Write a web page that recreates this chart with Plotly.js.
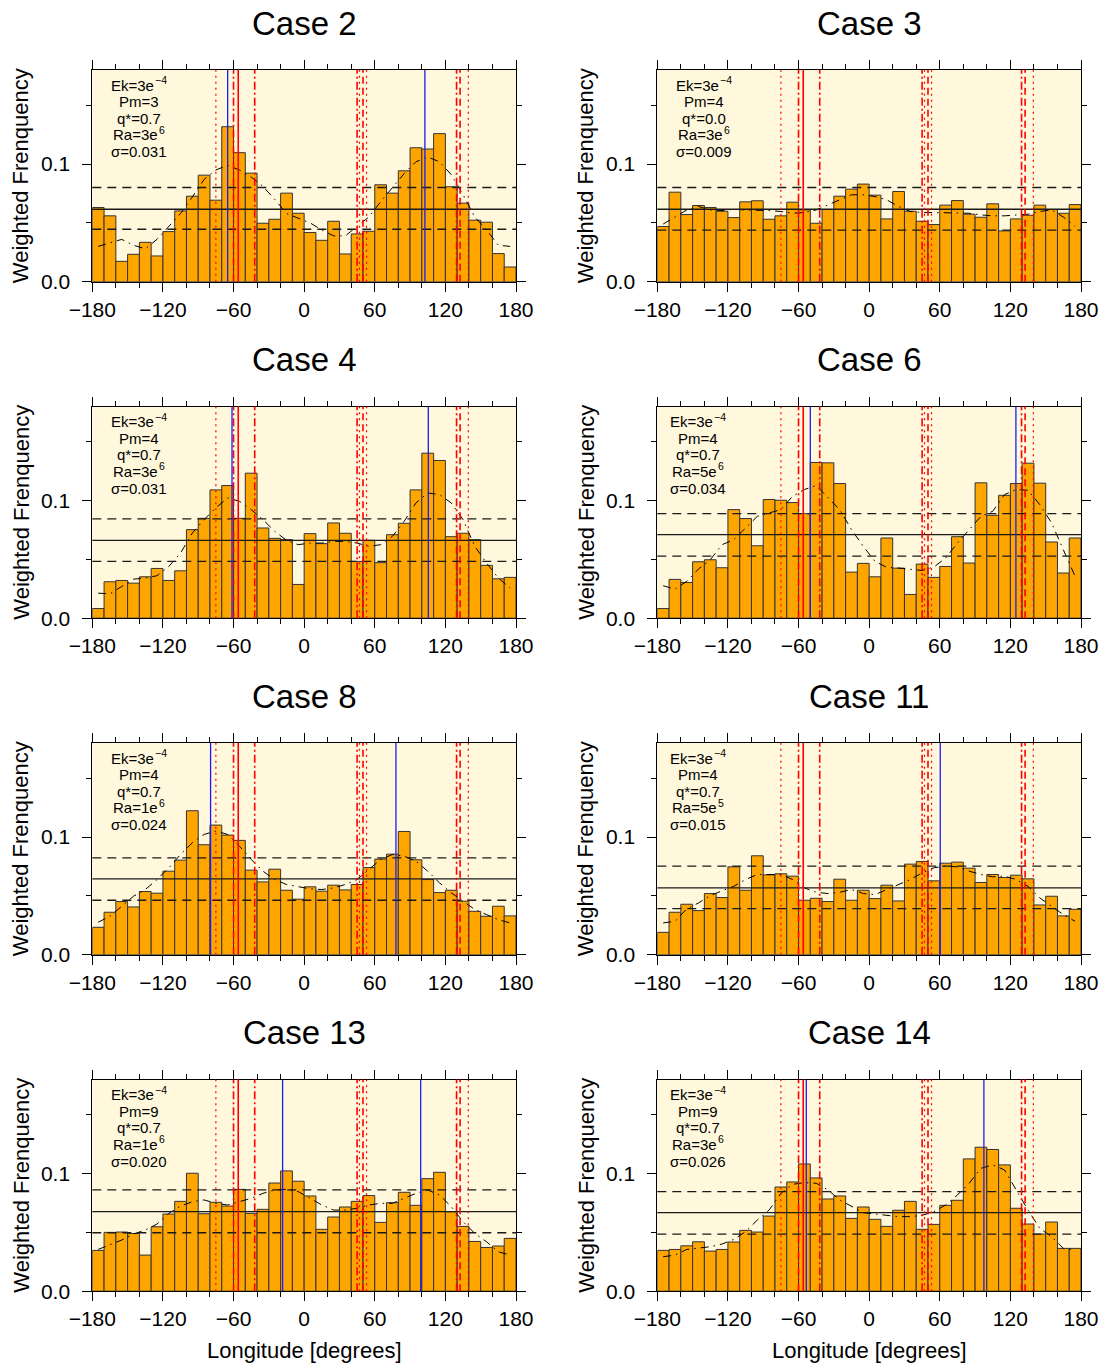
<!DOCTYPE html>
<html>
<head>
<meta charset="utf-8">
<script src="https://cdn.plot.ly/plotly-3.0.1.min.js"></script>
<style>
  html, body { margin: 0; padding: 0; background: #ffffff; }
  #chart { width: 1103px; height: 1365px; }
</style>
</head>
<body>
<div id="chart"></div>
<script>
// Longitude bin centres (10-degree bins)
const longitude = [-175,-165,-155,-145,-135,-125,-115,-105,-95,-85,-75,-65,-55,-45,-35,-25,-15,-5,
                   5,15,25,35,45,55,65,75,85,95,105,115,125,135,145,155,165,175];

const caseNames = ["Case 2","Case 3","Case 4","Case 6","Case 8","Case 11","Case 13","Case 14"];
const pmValues  = ["3","4","4","4","4","4","9","9"];
const qStarValues = ["0.7","0.0","0.7","0.7","0.7","0.7","0.7","0.7"];
const raMantissa = ["3","3","3","5","1","5","1","3"];
const raExponent = ["6","6","6","6","6","5","6","6"];
const ekMantissa = "3";
const ekExponent = "\u22124";
const sigmaValues = ["0.031","0.009","0.031","0.034","0.024","0.015","0.020","0.026"];

// Weighted frequency per longitude bin
const freqCase2  = [0.0631,0.0560,0.0173,0.0233,0.0335,0.0219,0.0426,0.0602,0.0727,0.0906,0.0693,0.1318,0.1097,0.0923,0.0497,0.0531,0.0753,0.0582,0.0418,0.0352,0.0514,0.0236,0.0406,0.0429,0.0824,0.0753,0.0943,0.1139,0.1128,0.1259,0.0807,0.0668,0.0523,0.0506,0.0239,0.0125];
const freqCase3  = [0.0469,0.0761,0.0571,0.0648,0.0631,0.0599,0.0545,0.0679,0.0688,0.0531,0.0560,0.0676,0.0611,0.0497,0.0614,0.0727,0.0787,0.0830,0.0736,0.0534,0.0767,0.0599,0.0514,0.0486,0.0651,0.0690,0.0574,0.0548,0.0662,0.0432,0.0534,0.0565,0.0651,0.0614,0.0582,0.0656];
const freqCase4  = [0.0082,0.0310,0.0321,0.0298,0.0352,0.0423,0.0321,0.0403,0.0753,0.0849,0.1091,0.1128,0.0849,0.1233,0.0767,0.0679,0.0668,0.0287,0.0719,0.0634,0.0810,0.0722,0.0483,0.0662,0.0472,0.0710,0.0807,0.1091,0.1403,0.1341,0.0693,0.0722,0.0668,0.0449,0.0335,0.0347];
const freqCase6  = [0.0082,0.0330,0.0304,0.0480,0.0497,0.0429,0.0923,0.0847,0.0616,0.1009,0.1003,0.0983,0.0889,0.1324,0.1321,0.1145,0.0392,0.0466,0.0352,0.0682,0.0426,0.0202,0.0460,0.0347,0.0440,0.0693,0.0469,0.1151,0.0875,0.1045,0.1145,0.1318,0.1148,0.0648,0.0384,0.0682];
const freqCase8  = [0.0233,0.0361,0.0452,0.0406,0.0537,0.0523,0.0710,0.0804,0.1224,0.0935,0.1102,0.1017,0.0972,0.0719,0.0619,0.0727,0.0548,0.0472,0.0577,0.0540,0.0591,0.0551,0.0597,0.0741,0.0813,0.0855,0.1048,0.0807,0.0639,0.0528,0.0548,0.0455,0.0369,0.0327,0.0412,0.0330];
const freqCase11 = [0.0190,0.0361,0.0429,0.0375,0.0520,0.0486,0.0747,0.0548,0.0841,0.0679,0.0688,0.0668,0.0463,0.0480,0.0452,0.0642,0.0463,0.0548,0.0477,0.0591,0.0457,0.0770,0.0793,0.0628,0.0778,0.0787,0.0736,0.0614,0.0682,0.0656,0.0676,0.0645,0.0423,0.0497,0.0330,0.0386];
const freqCase13 = [0.0347,0.0500,0.0503,0.0491,0.0307,0.0548,0.0656,0.0764,0.1003,0.0659,0.0756,0.0724,0.0866,0.0662,0.0696,0.0920,0.1023,0.0935,0.0810,0.0526,0.0631,0.0716,0.0764,0.0813,0.0585,0.0753,0.0841,0.0730,0.0957,0.1011,0.0676,0.0551,0.0423,0.0372,0.0384,0.0449];
const freqCase14 = [0.0347,0.0355,0.0386,0.0420,0.0341,0.0355,0.0418,0.0517,0.0503,0.0639,0.0886,0.0929,0.1082,0.0963,0.0784,0.0810,0.0619,0.0716,0.0611,0.0551,0.0688,0.0764,0.0526,0.0568,0.0730,0.0773,0.1125,0.1224,0.1205,0.1074,0.0705,0.0571,0.0486,0.0588,0.0364,0.0364];

// Smoothed frequency curves
const smoothCase2  = [0.030,0.033,0.036,0.031,0.028,0.036,0.047,0.058,0.072,0.087,0.095,0.099,0.095,0.089,0.081,0.070,0.058,0.054,0.050,0.044,0.039,0.039,0.047,0.055,0.068,0.080,0.092,0.102,0.106,0.102,0.091,0.074,0.055,0.044,0.031,0.030];
const smoothCase3  = [0.049,0.055,0.061,0.064,0.061,0.0605,0.0616,0.061,0.061,0.0605,0.0597,0.0582,0.0588,0.061,0.0653,0.0696,0.0739,0.0739,0.0724,0.0696,0.0639,0.0597,0.0588,0.0588,0.0588,0.0588,0.0582,0.0568,0.056,0.056,0.0565,0.0574,0.0597,0.0611,0.055,0.047];
const smoothCase4  = [0.0213,0.0207,0.0270,0.0332,0.0341,0.0361,0.0440,0.0554,0.0724,0.0838,0.0938,0.1023,0.0994,0.0923,0.0838,0.0739,0.0662,0.0625,0.0639,0.0639,0.0653,0.0653,0.0639,0.0611,0.0625,0.0696,0.0824,0.0980,0.1065,0.1051,0.0980,0.0838,0.0611,0.0469,0.0341,0.0256];
const smoothCase6  = [0.0276,0.0247,0.0313,0.0418,0.0497,0.0625,0.0668,0.0767,0.0866,0.0895,0.0923,0.1037,0.1094,0.1128,0.1023,0.0923,0.0753,0.0611,0.0483,0.0432,0.0426,0.0418,0.0406,0.0435,0.0511,0.0639,0.0753,0.0866,0.0909,0.1051,0.1094,0.1088,0.0966,0.0810,0.0582,0.0355];
const smoothCase8  = [0.0276,0.0327,0.0412,0.0497,0.0554,0.0639,0.0739,0.0852,0.0952,0.1023,0.1051,0.1023,0.0923,0.0810,0.0710,0.0639,0.0597,0.0577,0.0560,0.0554,0.0568,0.0597,0.0639,0.0724,0.0810,0.0852,0.0838,0.0795,0.0710,0.0611,0.0526,0.0455,0.0384,0.0341,0.0298,0.0270];
const smoothCase11 = [0.0270,0.0284,0.0389,0.0440,0.0503,0.0540,0.0582,0.0639,0.0682,0.0682,0.0682,0.0639,0.0568,0.0531,0.0520,0.0531,0.0554,0.0520,0.0511,0.0554,0.0597,0.0639,0.0696,0.0739,0.0753,0.0747,0.0710,0.0682,0.0662,0.0668,0.0639,0.0582,0.0483,0.0412,0.0341,0.0284];
const smoothCase13 = [0.0355,0.0392,0.0435,0.0486,0.0520,0.0571,0.0662,0.0724,0.0761,0.0776,0.0747,0.0733,0.0761,0.0790,0.0832,0.0861,0.0866,0.0847,0.0790,0.0733,0.0690,0.0690,0.0705,0.0733,0.0747,0.0747,0.0790,0.0832,0.0861,0.0818,0.0719,0.0591,0.0491,0.0420,0.0335,0.0307];
const smoothCase14 = [0.0293,0.0307,0.0355,0.0369,0.0378,0.0401,0.0440,0.0506,0.0605,0.0690,0.0832,0.0909,0.0923,0.0918,0.0861,0.0776,0.0719,0.0668,0.0656,0.0642,0.0634,0.0634,0.0645,0.0676,0.0733,0.0818,0.0918,0.1045,0.1074,0.1031,0.0861,0.0690,0.0534,0.0463,0.0364,0.0349];

// Mean level and the dashed band around it
const meanLevel  = [0.0616,0.0616,0.0662,0.0710,0.0645,0.0568,0.0676,0.0668];
const upperLevel = [0.0801,0.0801,0.0844,0.0889,0.0824,0.0753,0.0861,0.0847];
const lowerLevel = [0.0446,0.0438,0.0483,0.0528,0.0463,0.0392,0.0497,0.0486];

// Longitudes of the model's preferred flux lobes (blue)
const lobeLongitudes = [[-65,102.6],[],[-61.3,105.5],[-50,124.7],[-79.5,78],[60.4],[-18.3,99],[-53.4,97.5]];

// Reference longitudes (red) and their line types
const referenceLongitudes = [-75,-60,-56,-42,45,47,50,53,129.5,132.5,139.5];
const referenceKinds      = ["dot","dashdot","solid","dashdot","dashdot","dot","dash","dot","dashdot","dash","dot"];

const freqSeries = [freqCase2,freqCase3,freqCase4,freqCase6,freqCase8,freqCase11,freqCase13,freqCase14];
const smoothSeries = [smoothCase2,smoothCase3,smoothCase4,smoothCase6,smoothCase8,smoothCase11,smoothCase13,smoothCase14];

// ---------- drawing ----------
const W = 1103, H = 1365;
const FONT = "Liberation Sans, Arial, Helvetica, sans-serif";
const colLeft = [92.3, 657.3];
const plotW = 423.7;
const rowTop = [70, 406.5, 743, 1079.5];
const plotH = 211.7;
const textCentre = [46.7, 46.7, 46.7, 40.5, 46.7, 40.5, 46.7, 40.5];
const PARAM_SIZE = 15, EXP_SIZE = 10.5;

// text width helper for placing exponents next to their base
const measureCtx = document.createElement("canvas").getContext("2d");
function textWidth(str, size) {
  measureCtx.font = size + "px " + FONT;
  return measureCtx.measureText(str).width;
}

const dashMap = {
  dot: "2px,4px",
  dash: "7px,4px",
  dashdot: "8px,3px,2px,3px",
  solid: "solid"
};

const traces = [];
const shapes = [];
const annotations = [];
const layout = {
  width: W, height: H,
  margin: {l: 0, r: 0, t: 0, b: 0},
  paper_bgcolor: "#ffffff",
  plot_bgcolor: "#FFF8DC",
  showlegend: false,
  bargap: 0,
  font: {family: FONT, color: "#000000"}
};

for (let i = 0; i < 8; i++) {
  const r = Math.floor(i / 2), c = i % 2;
  const sfx = i === 0 ? "" : String(i + 1);
  const xa = "x" + sfx, ya = "y" + sfx;
  const x0 = colLeft[c] / W, x1 = (colLeft[c] + plotW) / W;
  const y1 = 1 - rowTop[r] / H, y0 = 1 - (rowTop[r] + plotH) / H;

  const common = {
    showline: true, linecolor: "#000000", linewidth: 1, mirror: "ticks",
    ticks: "outside", ticklen: 9, tickwidth: 1, tickcolor: "#000000",
    showgrid: false, zeroline: false, fixedrange: true,
    tickfont: {family: FONT, size: 21, color: "#000000"}
  };
  layout["xaxis" + sfx] = Object.assign({}, common, {
    domain: [x0, x1], anchor: ya, range: [-180, 180],
    tickmode: "linear", tick0: -180, dtick: 60, ticklabelstandoff: 0,
    minor: {tickmode: "linear", tick0: -180, dtick: 20, ticks: "outside", ticklen: 5, tickcolor: "#000000", showgrid: false}
  });
  layout["yaxis" + sfx] = Object.assign({}, common, {
    domain: [y0, y1], anchor: xa, range: [0, 0.18],
    tickmode: "linear", tick0: 0, dtick: 0.1, tickformat: ".1f", ticklabelstandoff: 8,
    minor: {tickmode: "linear", tick0: 0, dtick: 0.05, ticks: "outside", ticklen: 5, tickcolor: "#000000", showgrid: false}
  });

  traces.push({
    type: "bar", x: longitude, y: freqSeries[i], width: 10,
    xaxis: xa, yaxis: ya, hoverinfo: "skip",
    marker: {color: "#FFA500", line: {color: "#333333", width: 1}}
  });
  traces.push({
    type: "scatter", mode: "lines", x: longitude, y: smoothSeries[i],
    xaxis: xa, yaxis: ya, hoverinfo: "skip",
    line: {color: "#000000", width: 1, dash: "8px,5px,1.5px,5px"}
  });

  // mean and band
  [[meanLevel[i], "solid", 1.3], [upperLevel[i], "9px,6px", 1.3], [lowerLevel[i], "9px,6px", 1.3]].forEach(([v, d, w]) => {
    shapes.push({type: "line", layer: "above", xref: xa + " domain", x0: 0, x1: 1, yref: ya, y0: v, y1: v,
      line: {color: "#1a1a1a", width: w, dash: d}});
  });
  // reference longitudes
  referenceLongitudes.forEach((lon, k) => {
    shapes.push({type: "line", layer: "above", xref: xa, x0: lon, x1: lon, yref: ya + " domain", y0: 0, y1: 1,
      line: {color: "#FF0000", width: referenceKinds[k] === "dot" ? 1.2 : 1.6, dash: dashMap[referenceKinds[k]]}});
  });
  // lobe longitudes
  lobeLongitudes[i].forEach(lon => {
    shapes.push({type: "line", layer: "above", xref: xa, x0: lon, x1: lon, yref: ya + " domain", y0: 0, y1: 1,
      line: {color: "#1a1aff", width: 1.3}});
  });

  // panel title
  annotations.push({xref: "paper", yref: "paper", x: (colLeft[c] + plotW / 2) / W, y: 1 - (rowTop[r] - 47) / H,
    xanchor: "center", yanchor: "middle", showarrow: false, text: caseNames[i],
    font: {family: FONT, size: 33, color: "#000000"}});
  // y-axis title
  annotations.push({xref: "paper", yref: "paper", x: (colLeft[c] - 71) / W, y: 1 - (rowTop[r] + plotH / 2) / H,
    xanchor: "center", yanchor: "middle", showarrow: false, textangle: -90, text: "Weighted Frenquency",
    font: {family: FONT, size: 22, color: "#000000"}});

  // parameter block: [base text, exponent or null]
  const lines = [
    ["Ek=" + ekMantissa + "e", ekExponent],
    ["Pm=" + pmValues[i], null],
    ["q*=" + qStarValues[i], null],
    ["Ra=" + raMantissa[i] + "e", raExponent[i]],
    ["\u03c3=" + sigmaValues[i], null]
  ];
  const lineY = [0.929, 0.850, 0.772, 0.693, 0.614];
  const cx = textCentre[i];
  lines.forEach(([base, exp], k) => {
    const pf = {family: FONT, size: PARAM_SIZE, color: "#000000"};
    if (exp === null) {
      annotations.push({xref: xa + " domain", yref: ya + " domain", x: cx / plotW, y: lineY[k],
        xanchor: "center", yanchor: "middle", showarrow: false, text: base, font: pf});
    } else {
      const wb = textWidth(base, PARAM_SIZE), we = textWidth(exp, EXP_SIZE);
      const split = cx - (wb + we) / 2 + wb;
      annotations.push({xref: xa + " domain", yref: ya + " domain", x: split / plotW, y: lineY[k],
        xanchor: "right", yanchor: "middle", showarrow: false, text: base, font: pf, borderpad: 0, xshift: 1});
      annotations.push({xref: xa + " domain", yref: ya + " domain", x: split / plotW, y: lineY[k],
        xanchor: "left", yanchor: "middle", showarrow: false, text: exp, yshift: 5, borderpad: 0,
        font: {family: FONT, size: EXP_SIZE, color: "#000000"}});
    }
  });

  // x-axis title on the bottom row
  if (r === 3) {
    annotations.push({xref: "paper", yref: "paper", x: (colLeft[c] + plotW / 2) / W, y: 1 - 1350 / H,
      xanchor: "center", yanchor: "middle", showarrow: false, text: "Longitude [degrees]",
      font: {family: FONT, size: 22, color: "#000000"}});
  }
}

layout.shapes = shapes;
layout.annotations = annotations;

Plotly.newPlot("chart", traces, layout, {displayModeBar: false, staticPlot: true});
</script>
</body>
</html>
